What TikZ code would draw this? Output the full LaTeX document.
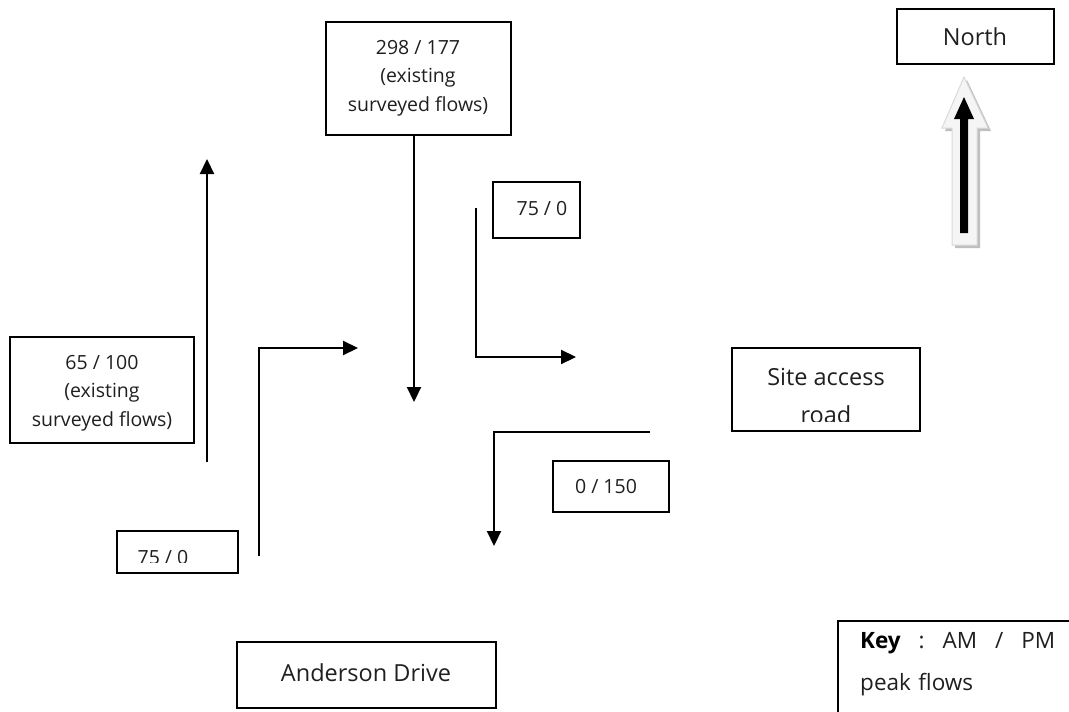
\documentclass[tikz,border=0pt]{standalone}
\usepackage{fontspec}
\setmainfont{Open Sans}
\usetikzlibrary{arrows.meta}
\begin{document}
\begin{tikzpicture}[x=1pt,y=-1pt,
  box/.style={draw=black,line width=1.8pt,inner sep=0pt},
  lbl/.style={font=\fontsize{19.5}{28.5}\selectfont\color{black!88}, align=center, inner sep=0pt},
  big/.style={font=\fontsize{23.5}{38}\selectfont\color{black!88}, align=center, inner sep=0pt},
  flow/.style={line width=2.2pt,-{Triangle[length=15pt,width=14pt]}},
  road/.style={line width=2.2pt}]
\useasboundingbox (0,0) rectangle (1069,712);
\begin{scope}
\clip (0,0) rectangle (1069,712);
% boxes
\draw[box] (326,22) rectangle (511,135);
\node[lbl] (t298) at (418,78) {298 / 177\\(existing\\surveyed flows)};
\draw[box] (897,9) rectangle (1054,64);
\node[big] (north) at (975,37) {North};
\draw[box] (10,337) rectangle (194,443);
\node[lbl] (t65) at (102,393) {65 / 100\\(existing\\surveyed flows)};
\draw[box] (117,531) rectangle (238,573);
\begin{scope}
\clip (117,531) rectangle (238,562);
\node[lbl] (t75b) at (163,558) {75 / 0};
\end{scope}
\draw[box] (493,182) rectangle (580,238);
\node[lbl] (t75a) at (542,209) {75 / 0};
\draw[box] (553,461) rectangle (669,512);
\node[lbl] (t0) at (606,487) {0 / 150};
\draw[box] (732,348) rectangle (920,431);
\begin{scope}
\clip (732,348) rectangle (920,421.5);
\node[big] (site) at (826,396) {Site access\\road};
\end{scope}
\draw[box] (237,642) rectangle (496,708);
\node[big] (anderson) at (366,673) {Anderson Drive};
\draw[box] (838,621) rectangle (1080,720);
\node[big, anchor=west, text width=195pt, align=left, font=\fontsize{22.5}{42}\selectfont\color{black!88}] (key) at (860,664)
  {{\color{black}\bfseries Key}\hfill:\hfill AM\hfill/\hfill PM\\peak flows};
\end{scope}
% flow arrows
\coordinate (a1) at (414,136);
\coordinate (a1e) at (414,402);
\draw[flow] (a1) -- (a1e);
\coordinate (b1) at (207,462);
\coordinate (b1e) at (207,159);
\draw[flow] (b1) -- (b1e);
\coordinate (c1) at (259,556);
\coordinate (c2) at (259,348);
\coordinate (c3) at (358,348);
\draw[flow] (c1) -- (c2) -- (c3);
\coordinate (d1) at (476,208);
\coordinate (d2) at (476,357);
\coordinate (d3) at (576,357);
\draw[flow] (d1) -- (d2) -- (d3);
\coordinate (e1) at (650,432);
\coordinate (e2) at (494,432);
\coordinate (e3) at (494,546);
\draw[flow] (e1) -- (e2) -- (e3);
% north arrow
\fill[black!25] (967,80) -- (991,131) -- (980,131) -- (980,248) -- (955,248) -- (955,131) -- (945,131) -- cycle;
\filldraw[fill=black!4, draw=black!15, line width=1pt] (964,77) -- (988,128) -- (977,128) -- (977,245) -- (952,245) -- (952,128) -- (942,128) -- cycle;
\fill[black] (964,97) -- (974,119) -- (968,119) -- (968,233) -- (960,233) -- (960,119) -- (954,119) -- cycle;
\end{tikzpicture}
\end{document}
